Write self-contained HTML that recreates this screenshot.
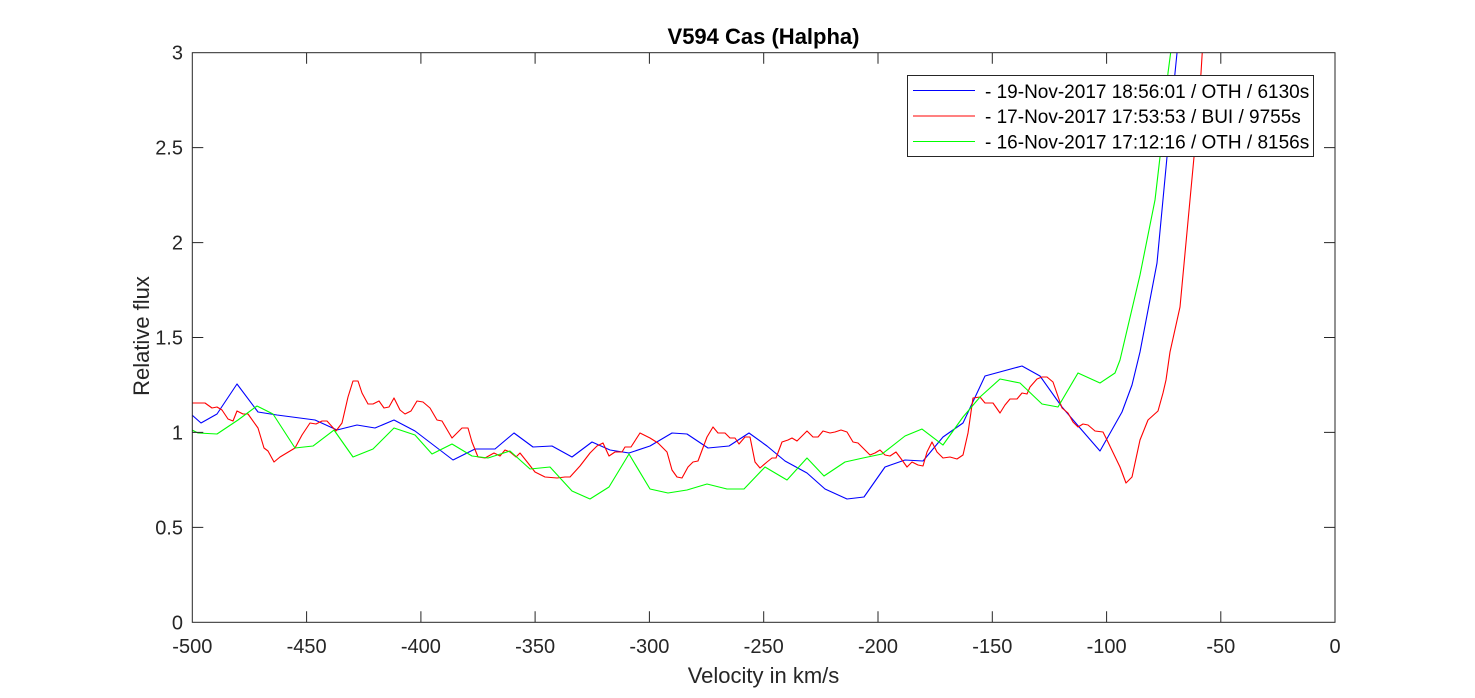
<!DOCTYPE html>
<html><head><meta charset="utf-8"><style>
html,body{margin:0;padding:0;background:#fff;}
svg{display:block;font-family:"Liberation Sans",Arial,sans-serif;}
</style></head><body>
<svg width="1475" height="698" viewBox="0 0 1475 698" xmlns="http://www.w3.org/2000/svg">
<rect width="1475" height="698" fill="#fff"/>
<defs><clipPath id="c"><rect x="192.3" y="52.7" width="1142.7" height="569.6"/></clipPath></defs>
<g clip-path="url(#c)" fill="none" stroke-width="1.1" stroke-linejoin="round">
<polyline stroke="#0000ff" points="192,415 201,423 217,414 237,384 258,412 277,415 315,420 337,430 357,425 375,428 394,420 415,431 453,460 475,449 495,449 514,433 533,447 552,446 572,457 592,442 610,450 629,453 650,446 672,433 687,434 708,448 729,446 749,433 767,446 785,461 807,473 825,489 847,499 864,497 885,467 905,460 923,461 943,437 963,423 985,376 1022,366 1040,376 1062,407 1080,428 1100,451 1122,412 1132,385 1140,352 1157,263 1167,157 1175,73 1177,53 1179,40"/>
<polyline stroke="#ff0000" points="192,403 205,403 212,408 217,407 222,410 228,419 233,421 237,411 243,414 248,414 258,428 264,448 268,451 274,462 280,457 295,448 302,435 310,423 316,424 322,421 327,421 336,431 342,423 348,397 353,381 358,381 362,393 368,404 373,404 379,401 384,408 389,407 394,398 400,410 405,414 411,411 417,401 423,402 430,408 437,420 442,421 452,438 462,428 468,428 472,442 478,457 485,458 494,453 500,456 505,450 510,452 516,457 520,453 528,463 535,472 545,477 557,478 565,477 570,477 580,466 590,453 597,446 603,443 609,456 615,452 622,452 625,447 631,447 640,433 650,438 658,443 667,452 672,470 677,477 682,478 688,467 693,462 698,461 707,437 713,427 718,433 725,433 730,438 735,438 739,444 745,437 750,437 755,462 760,468 767,462 772,458 776,458 782,442 788,440 792,438 797,441 802,436 807,431 813,437 818,437 823,431 830,433 835,432 841,430 847,432 853,442 858,443 863,448 870,455 875,453 880,450 885,455 890,456 896,452 902,460 907,467 912,462 918,465 923,466 927,452 932,442 937,452 943,458 950,457 957,459 963,455 968,433 973,398 980,397 985,403 993,403 1000,413 1005,405 1010,399 1017,399 1022,393 1027,394 1030,387 1037,379 1042,377 1047,377 1053,382 1062,408 1068,413 1073,422 1078,427 1083,424 1088,425 1095,431 1103,432 1107,440 1120,467 1126,483 1132,477 1140,440 1148,420 1158,411 1163,393 1166,380 1170,352 1180,307 1194,157 1201,73 1203,40"/>
<polyline stroke="#00ff00" points="192,430 198,433 217,434 238,420 257,406 273,414 295,448 313,446 334,430 353,457 373,449 394,428 415,435 432,454 452,444 472,456 488,458 510,451 530,469 550,467 572,491 590,499 609,487 629,454 650,489 668,493 687,490 707,484 727,489 744,489 765,467 787,480 807,458 824,476 845,462 863,458 882,454 905,436 922,429 943,445 963,417 980,397 1000,379 1020,383 1042,404 1058,407 1078,373 1100,383 1115,373 1120,360 1140,275 1155,200 1160,157 1168,73 1171,50"/>
</g>
<g stroke="#262626" stroke-width="1" fill="none">
<rect x="192.3" y="52.7" width="1142.7" height="569.6"/>
<path d="M306.6,622.3v-11M420.9,622.3v-11M535.1,622.3v-11M649.4,622.3v-11M763.7,622.3v-11M878,622.3v-11M992.3,622.3v-11M1106.6,622.3v-11M1220.8,622.3v-11
M306.6,52.7v11M420.9,52.7v11M535.1,52.7v11M649.4,52.7v11M763.7,52.7v11M878,52.7v11M992.3,52.7v11M1106.6,52.7v11M1220.8,52.7v11
M192.3,527.4h11M192.3,432.4h11M192.3,337.5h11M192.3,242.6h11M192.3,147.6h11
M1335,527.4h-11M1335,432.4h-11M1335,337.5h-11M1335,242.6h-11M1335,147.6h-11"/>
</g>
<g fill="#262626" font-size="20" text-anchor="middle">
<text x="192.3" y="653">-500</text><text x="306.6" y="653">-450</text><text x="420.9" y="653">-400</text><text x="535.1" y="653">-350</text><text x="649.4" y="653">-300</text><text x="763.7" y="653">-250</text><text x="878" y="653">-200</text><text x="992.3" y="653">-150</text><text x="1106.6" y="653">-100</text><text x="1220.8" y="653">-50</text><text x="1335" y="653">0</text>
</g>
<g fill="#262626" font-size="20" text-anchor="end">
<text x="183" y="629.5">0</text><text x="183" y="534.5">0.5</text><text x="183" y="439.5">1</text><text x="183" y="344.5">1.5</text><text x="183" y="249.5">2</text><text x="183" y="154.5">2.5</text><text x="183" y="59.7">3</text>
</g>
<text x="763.5" y="44" font-size="22" font-weight="bold" text-anchor="middle" fill="#000">V594 Cas (Halpha)</text>
<text x="763.5" y="683" font-size="22" text-anchor="middle" fill="#262626">Velocity in km/s</text>
<text transform="translate(149,336) rotate(-90)" font-size="22" text-anchor="middle" fill="#262626">Relative flux</text>
<rect x="907.5" y="75.5" width="406" height="81" fill="#fff" stroke="#262626" stroke-width="1"/>
<line x1="913" y1="90.5" x2="975" y2="90.5" stroke="#0000ff" stroke-width="1"/>
<line x1="913" y1="116" x2="975" y2="116" stroke="#ff0000" stroke-width="1"/>
<line x1="913" y1="141.5" x2="975" y2="141.5" stroke="#00ff00" stroke-width="1"/>
<g fill="#000" font-size="19">
<text x="985" y="98">- 19-Nov-2017 18:56:01 / OTH / 6130s</text>
<text x="985" y="123">- 17-Nov-2017 17:53:53 / BUI / 9755s</text>
<text x="985" y="148.5">- 16-Nov-2017 17:12:16 / OTH / 8156s</text>
</g>
</svg>
</body></html>
